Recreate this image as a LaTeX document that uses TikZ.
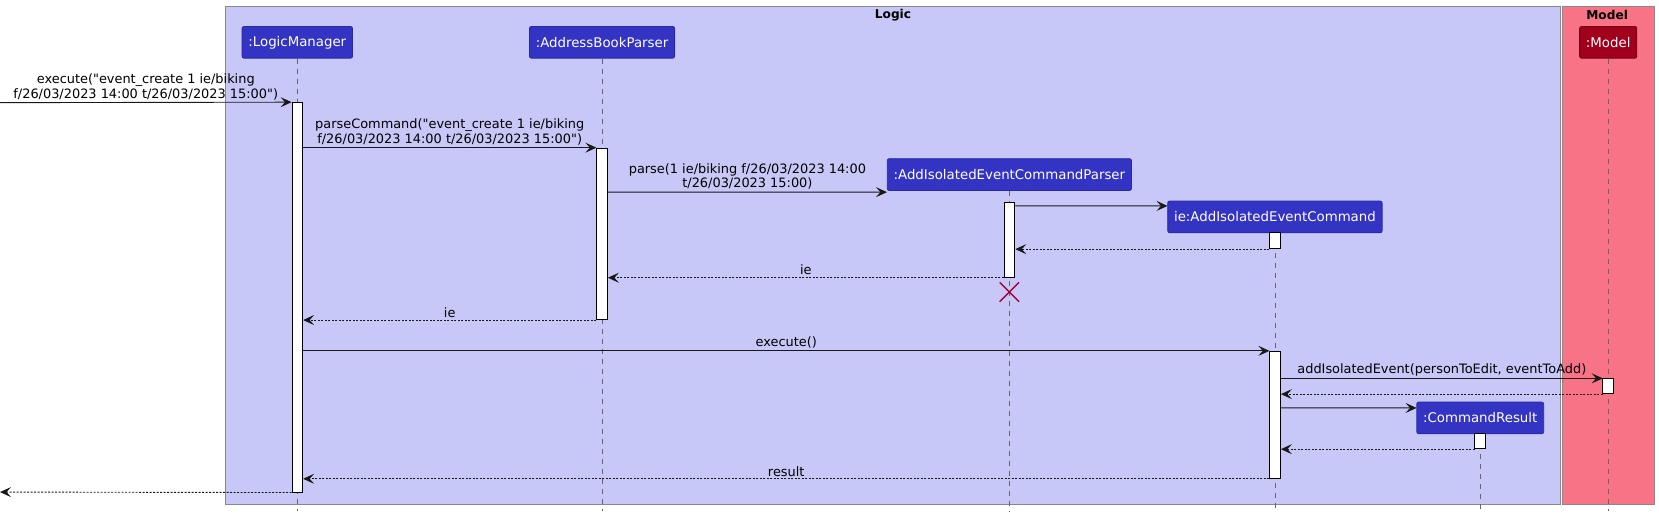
\documentclass[tikz,border=0pt]{standalone}
\usepackage{fontspec}
\setmainfont{DejaVu Sans}[Ligatures=TeXOff]
\usetikzlibrary{arrows.meta,calc,shapes.misc}
\definecolor{logicfill}{HTML}{C8C8F8}
\definecolor{modelfill}{HTML}{F87385}
\definecolor{partblue}{HTML}{3333C4}
\definecolor{partborder}{HTML}{2828A0}
\definecolor{modelred}{HTML}{A0001C}
\definecolor{modelborder}{HTML}{700010}
\definecolor{xred}{HTML}{A80036}
\definecolor{framegray}{HTML}{888888}
\begin{document}
\begin{tikzpicture}[x=1pt,y=-1pt,scale=1.0580,
  every node/.append style={transform shape},
  part/.style={draw=partborder, fill=partblue, text=white, rounded corners=2pt, minimum height=30, inner xsep=6, font=\fontsize{12.6}{15}\selectfont, line width=0.8},
  act/.style={draw=black, fill=white, minimum width=10, inner sep=0, line width=0.9},
  life/.style={draw=black!60, dash pattern=on 5pt off 5pt, line width=0.7},
  msg/.style={-{Stealth[length=11,width=10,inset=4.5]}, line width=0.9, draw=black!90},
  ret/.style={msg, dash pattern=on 2pt off 1.5pt},
  lbl/.style={font=\fontsize{12.2}{14}\selectfont, align=center, inner sep=2, anchor=south},
  frametitle/.style={font=\bfseries\fontsize{11.5}{14}\selectfont, inner sep=0},
]
\useasboundingbox (0,0) rectangle (1568,487.7);
% frames
\draw[framegray, fill=logicfill, line width=0.9] (213,6) rectangle (1475,477);
\draw[framegray, fill=modelfill, line width=0.9] (1477,6) rectangle (1564,477);
\node[frametitle] (tlogic) at (844,14) {Logic};
\node[frametitle] (tmodel) at (1519,14) {Model};
\coordinate (bot) at (0,483);
\coordinate (left1) at (0,97);
\coordinate (left2) at (0,465);
% participants
\node[part] (lm) at (281,40) {:LogicManager};
\node[part] (abp) at (569,40) {:AddressBookParser};
\node[part] (pp) at (954,165) {:AddIsolatedEventCommandParser};
\node[part] (ie) at (1205,205) {ie:AddIsolatedEventCommand};
\node[part] (cr) at (1399,395) {:CommandResult};
\node[part, draw=modelborder, fill=modelred] (mo) at (1520,40) {:Model};
% lifelines
\draw[life] (lm.south) -- (lm.south |- bot);
\draw[life] (abp.south) -- (abp.south |- bot);
\draw[life] (pp.south) -- (pp.south |- bot);
\draw[life] (ie.south) -- (ie.south |- bot);
\draw[life] (cr.south) -- (cr.south |- bot);
\draw[life] (mo.south) -- (mo.south |- bot);
% activations
\node[act, minimum height=368] (lma) at (281,281) {};
\node[act, minimum height=162] (abpa) at (569,221) {};
\node[act, minimum height=71] (ppa) at (954,226.5) {};
\node[act, minimum height=15] (iea1) at (1205,227.5) {};
\node[act, minimum height=120] (iea2) at (1205,392) {};
\node[act, minimum height=14] (moa) at (1520,365) {};
\node[act, minimum height=14] (cra) at (1399,417) {};
% destroy
\node[cross out, draw=xred, minimum size=17, line width=1.3, inner sep=0] (xx) at (954,276) {};
% messages
\draw[msg] (left1) -- node[lbl] {execute("event\_create 1 ie/biking\\f/26/03/2023 14:00 t/26/03/2023 15:00")} (lma.north west);
\draw[msg] (lma.east |- abpa.north) -- node[lbl] {parseCommand("event\_create 1 ie/biking\\f/26/03/2023 14:00 t/26/03/2023 15:00")} (abpa.north west);
\draw[msg] ($(abpa.north east)+(0,42)$) coordinate (p3) -- node[lbl] {parse(1 ie/biking f/26/03/2023 14:00\\t/26/03/2023 15:00)} (p3 -| pp.west);
\draw[msg] ($(ppa.north east)+(0,4)$) coordinate (p4) -- (p4 -| ie.west);
\draw[ret] (iea1.south west) -- (iea1.south west -| ppa.east);
\draw[ret] (ppa.south west) -- node[lbl] {ie} (ppa.south west -| abpa.east);
\draw[ret] (abpa.south west) -- node[lbl] {ie} (abpa.south west -| lma.east);
\draw[msg] (lma.east |- iea2.north) -- node[lbl] {execute()} (iea2.north west);
\draw[msg] (iea2.east |- moa.north) -- node[lbl] {addIsolatedEvent(personToEdit, eventToAdd)} (moa.north west);
\draw[ret] (moa.south west) -- (moa.south west -| iea2.east);
\draw[msg] ($(iea2.east |- moa.south)+(0,13)$) coordinate (p11) -- (p11 -| cr.west);
\draw[ret] (cra.south west) -- (cra.south west -| iea2.east);
\draw[ret] (iea2.south west) -- node[lbl] {result} (iea2.south west -| lma.east);
\draw[ret] (lma.south west) -- (left2);
\end{tikzpicture}
\end{document}
